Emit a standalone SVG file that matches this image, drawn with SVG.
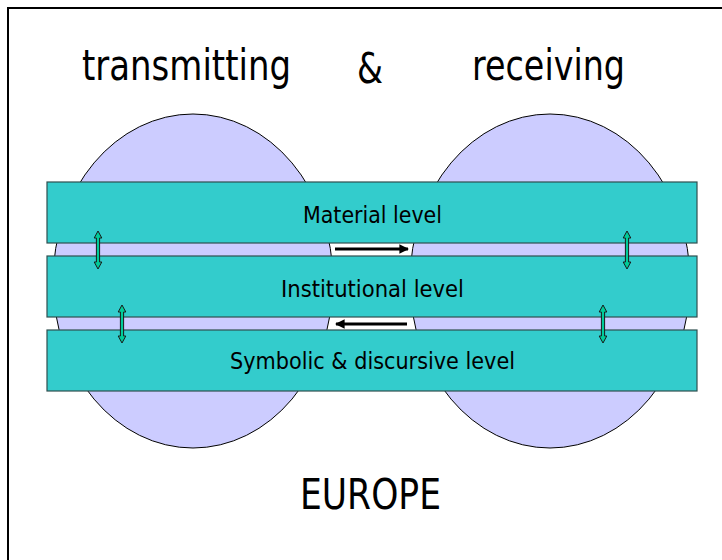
<svg xmlns="http://www.w3.org/2000/svg" width="722" height="560" viewBox="0 0 722 560">
  <style>
    .frame { fill: #ffffff; stroke: #000000; stroke-width: 2; }
    .sphere { fill: #ccccff; stroke: #000000; stroke-width: 1; }
    .level { fill: #33cccc; stroke: #2f4f4f; stroke-width: 1.2; }
    .title { font-family: "DejaVu Sans", Verdana, sans-serif; font-size: 42px; fill: #000000; }
    .label { font-family: "DejaVu Sans", Verdana, sans-serif; font-size: 23px; fill: #000000; }
    .link { fill: #00cc99; stroke: #1a1a1a; stroke-width: 1; }
    .flow { stroke: #000000; stroke-width: 3; fill: none; }
  </style>
  <defs>
    <marker id="head" viewBox="0 0 10 10" refX="9" refY="5" markerWidth="4" markerHeight="3.2" orient="auto" markerUnits="strokeWidth">
      <path d="M0,0 L10,5 L0,10 Z" fill="#000000"/>
    </marker>
    <!-- thin vertical double-headed block arrow, centred on x=0 -->
    <polygon id="dbl" class="link" points="0,0 3.8,7 1.6,7 1.6,31 3.8,31 0,38 -3.8,31 -1.6,31 -1.6,7 -3.8,7"/>
  </defs>

  <rect class="frame" x="8" y="8" width="720" height="560"/>

  <!-- headings -->
  <text class="title" x="82" y="80" textLength="209" lengthAdjust="spacingAndGlyphs">transmitting</text>
  <text class="title" x="357" y="83" textLength="26" lengthAdjust="spacingAndGlyphs">&amp;</text>
  <text class="title" x="472" y="80" textLength="153" lengthAdjust="spacingAndGlyphs">receiving</text>

  <!-- the two spheres -->
  <g id="sphere-transmitting">
    <ellipse class="sphere" cx="193" cy="281" rx="140" ry="167"/>
  </g>
  <g id="sphere-receiving">
    <ellipse class="sphere" cx="550" cy="281" rx="140" ry="167"/>
  </g>

  <!-- levels -->
  <g id="material-level">
    <rect class="level" x="47" y="182" width="650" height="61"/>
    <text class="label" x="303" y="223" textLength="139" lengthAdjust="spacingAndGlyphs">Material level</text>
  </g>
  <g id="institutional-level">
    <rect class="level" x="47" y="256" width="650" height="61"/>
    <text class="label" x="281" y="297" textLength="183" lengthAdjust="spacingAndGlyphs">Institutional level</text>
  </g>
  <g id="symbolic-level">
    <rect class="level" x="47" y="330" width="650" height="61"/>
    <text class="label" x="230" y="369" textLength="285" lengthAdjust="spacingAndGlyphs">Symbolic &amp; discursive level</text>
  </g>

  <!-- connectors -->
  <g id="connectors">
    <use href="#dbl" x="98" y="231"/>
    <use href="#dbl" x="122" y="305"/>
    <use href="#dbl" x="627" y="231"/>
    <use href="#dbl" x="603" y="305"/>
    <line class="flow" x1="335" y1="249" x2="408" y2="249" marker-end="url(#head)"/>
    <line class="flow" x1="407" y1="324" x2="336" y2="324" marker-end="url(#head)"/>
  </g>

  <text class="title" x="300" y="509" textLength="141" lengthAdjust="spacingAndGlyphs">EUROPE</text>
</svg>
